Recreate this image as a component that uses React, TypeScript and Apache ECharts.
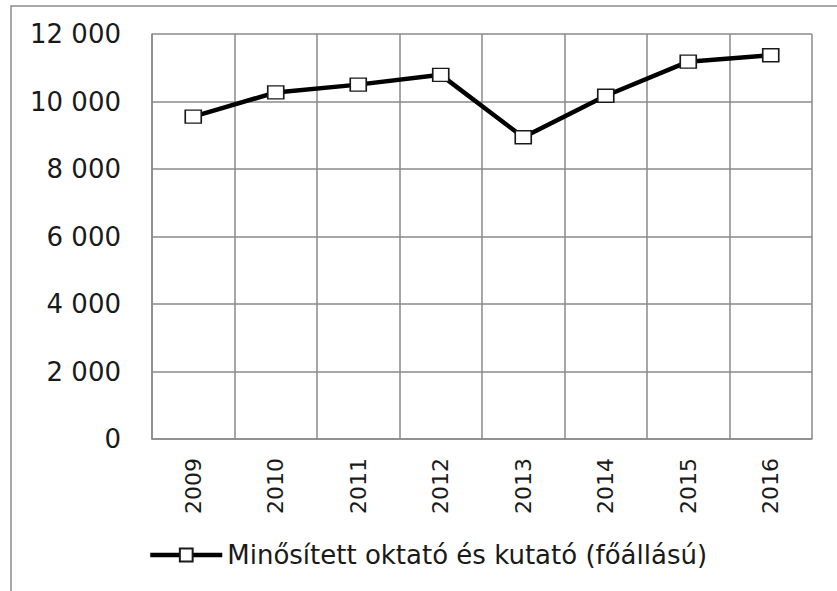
import React, { useEffect, useRef } from "react";
import * as echarts from "echarts";

const years = ["2009", "2010", "2011", "2012", "2013", "2014", "2015", "2016"];
const values = [9550, 10270, 10500, 10790, 8940, 10170, 11180, 11370];
const seriesName = "Minősített oktató és kutató (főállású)";
const yMin = 0;
const yMax = 12000;
const yStep = 2000;

function fmt(v: number): string {
  const s = String(Math.round(v));
  return s.replace(/\B(?=(\d{3})+(?!\d))/g, " ");
}

export default function App() {
  const ref = useRef<HTMLDivElement>(null);
  useEffect(() => {
    if (!ref.current) return;
    const chart = echarts.init(ref.current, null, { renderer: "svg" });
    const font = "DejaVu Sans";
    chart.setOption({
      animation: false,
      backgroundColor: "#ffffff",
      graphic: [
        {
          type: "rect",
          shape: { x: 11, y: 6, width: 900, height: 700 },
          style: { fill: "none", stroke: "#8c8c8c", lineWidth: 1.5 },
          silent: true,
        },
      ],
      grid: { left: 152, right: 25, top: 34, bottom: 152 },
      legend: {
        left: 143,
        top: 537,
        itemWidth: 72,
        itemHeight: 16,
        lineStyle: { width: 4.5, color: "#000" },
        textStyle: { fontFamily: font, fontSize: 26, color: "#1a1a1a" },
        data: [seriesName],
      },
      xAxis: {
        type: "category",
        data: years,
        boundaryGap: true,
        axisLine: { lineStyle: { color: "#8a8a8a", width: 1.5 } },
        axisTick: { show: false },
        splitLine: { show: true, lineStyle: { color: "#8a8a8a", width: 1.5 } },
        axisLabel: {
          rotate: 90,
          margin: 19,
          fontFamily: font,
          fontSize: 22,
          color: "#1a1a1a",
          interval: 0,
        },
      },
      yAxis: {
        type: "value",
        min: yMin,
        max: yMax,
        interval: yStep,
        axisLine: { show: true, lineStyle: { color: "#8a8a8a", width: 1.5 } },
        axisTick: { show: false },
        splitLine: { show: true, lineStyle: { color: "#8a8a8a", width: 1.5 } },
        axisLabel: {
          margin: 31,
          fontFamily: font,
          fontSize: 26,
          color: "#1a1a1a",
          formatter: (v: number) => fmt(v),
        },
      },
      series: [
        {
          name: seriesName,
          type: "line",
          data: values,
          symbol: "rect",
          symbolSize: [16, 13],
          lineStyle: { color: "#000000", width: 4.5 },
          itemStyle: { color: "#ffffff", borderColor: "#1a1a1a", borderWidth: 1.5 },
          z: 5,
        },
      ],
    });
    return () => chart.dispose();
  }, []);
  return (
    <div
      ref={ref}
      style={{ position: "fixed", left: 0, top: 0, width: 837, height: 591, background: "#fff" }}
    />
  );
}
